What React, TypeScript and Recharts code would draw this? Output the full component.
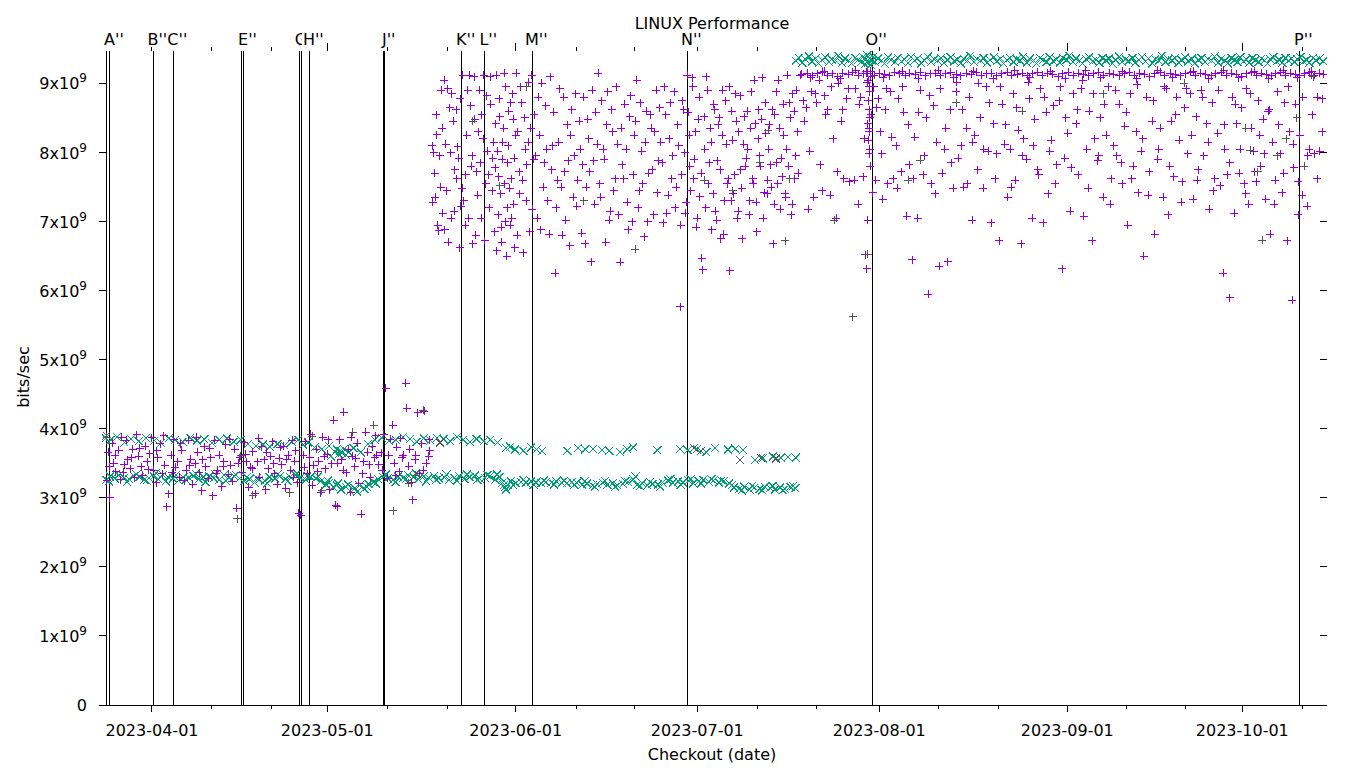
import React from 'react';
import { ScatterChart, Scatter, XAxis, YAxis, ReferenceLine } from 'recharts';

const W = 1360;
const H = 768;
const FONT = '"DejaVu Sans", Verdana, sans-serif';
const PURPLE = '#9400d3';
const GREEN = '#009e73';
const GRAY = '#555555';

// x unit: checkout position in "days" relative to the 2023-04-01 tick
const X_MIN = -8.8333;
const X_MAX = 195.8333;
const Y_MAX = 9.47e9;
const X_DOMAIN: [number, number] = [X_MIN, X_MAX];
const Y_DOMAIN: [number, number] = [0, Y_MAX];

const majorTickPos = [0, 29.22, 60.62, 90.88, 121.22, 152.55, 181.72];
const majorTickLabels = ['2023-04-01', '2023-05-01', '2023-06-01', '2023-07-01', '2023-08-01', '2023-09-01', '2023-10-01'];
const minorTickPos = [9.95, 19.95, 39.17, 49.22, 70.67, 80.38, 100.88, 110.67, 131.05, 141.05, 162.45, 172.33, 191.67];
const yTicks = [0, 1e9, 2e9, 3e9, 4e9, 5e9, 6e9, 7e9, 8e9, 9e9];

const markerPos = [-7.55, -7.0, 0.22, 3.55, 15.0, 15.25, 24.55, 24.88, 26.22, 38.55, 38.78, 51.62, 55.38, 63.38, 89.22, 120.05, 191.22];
const markerLabels = ['', "A''", "B''", "C''", '', "E''", '', "G''", "H''", '', "J''", "K''", "L''", "M''", "N''", "O''", "P''"];

// values: [x, y(Gbit/s), x, y, ...]
const greenLow = [
  -7.6, 3.26, -7.0, 3.31, -6.2, 3.28, -5.5, 3.33, -4.6, 3.29, -3.8, 3.27, -3.0, 3.32, -2.1, 3.30, -1.3, 3.26, -0.5, 3.29,
  0.3, 3.31, 1.0, 3.27, 1.8, 3.33, 2.7, 3.30, 3.5, 3.28, 4.4, 3.25, 5.2, 3.30, 6.1, 3.29, 6.9, 3.32, 7.8, 3.27,
  8.6, 3.30, 9.5, 3.31, 10.3, 3.28, 11.2, 3.26, 12.0, 3.33, 12.9, 3.29, 13.7, 3.31, 14.6, 3.28, 15.4, 3.24, 16.2, 3.27,
  17.1, 3.22, 17.9, 3.26, 18.8, 3.25, 19.6, 3.30, 20.5, 3.28, 21.3, 3.31, 22.2, 3.27, 23.0, 3.30, 23.9, 3.33, 24.7, 3.29,
  25.6, 3.26, 26.4, 3.30, 27.3, 3.28, 28.1, 3.24, 29.0, 3.19, 29.6, 3.22, 30.2, 3.15, 30.8, 3.18, 31.5, 3.12, 32.3, 3.16,
  33.0, 3.10, 33.8, 3.14, 34.6, 3.18, 35.4, 3.13, 36.1, 3.20, 36.9, 3.23, 37.7, 3.27, 38.5, 3.30, 39.3, 3.28, 40.2, 3.26,
  41.0, 3.31, 41.9, 3.29, 42.7, 3.33, 43.6, 3.30, 44.4, 3.27, 45.3, 3.31, 46.1, 3.29, 47.0, 3.32, 47.8, 3.28, 48.7, 3.30,
  49.5, 3.26, 50.4, 3.29, 51.2, 3.31, 52.1, 3.27, 52.9, 3.30, 53.8, 3.32, 54.6, 3.28, 55.5, 3.29, 56.3, 3.31, 57.2, 3.26,
  57.9, 3.30, 58.4, 3.22, 58.8, 3.15, 59.3, 3.19, 59.8, 3.24, 60.6, 3.21, 61.5, 3.23, 62.3, 3.22, 63.2, 3.24, 64.0, 3.22,
  64.9, 3.21, 65.7, 3.23, 66.6, 3.22, 67.4, 3.24, 68.3, 3.22, 69.1, 3.21, 70.0, 3.23, 70.8, 3.22, 71.7, 3.19, 72.5, 3.21,
  73.4, 3.18, 74.2, 3.20, 75.1, 3.22, 75.9, 3.19, 76.8, 3.21, 77.6, 3.18, 78.5, 3.20, 79.3, 3.23, 80.2, 3.27, 80.9, 3.19,
  81.7, 3.21, 82.6, 3.18, 83.4, 3.20, 84.3, 3.19, 85.1, 3.22, 86.0, 3.25, 86.8, 3.22, 87.7, 3.24, 88.5, 3.22, 89.4, 3.25,
  90.2, 3.21, 91.1, 3.24, 91.9, 3.26, 92.8, 3.23, 93.6, 3.25, 94.5, 3.22, 95.3, 3.24, 96.2, 3.21, 97.0, 3.15, 97.9, 3.13,
  98.7, 3.16, 99.6, 3.12, 100.4, 3.15, 101.3, 3.13, 102.1, 3.16, 103.0, 3.14, 103.8, 3.12, 104.7, 3.15, 105.5, 3.13, 106.4, 3.16,
  107.2, 3.14,
  -7.2, 3.24, -5.9, 3.35, -4.2, 3.23, -2.6, 3.34, -0.9, 3.25, 0.7, 3.36, 2.3, 3.24, 4.0, 3.33, 5.6, 3.26, 7.3, 3.35,
  8.9, 3.23, 10.6, 3.34, 12.3, 3.25, 14.0, 3.33, 15.8, 3.30, 17.5, 3.29, 19.2, 3.21, 20.9, 3.34, 22.6, 3.24, 24.2, 3.35,
  25.9, 3.32, 27.7, 3.31, 29.3, 3.25, 31.0, 3.21, 32.7, 3.19, 34.2, 3.09, 35.8, 3.16, 37.3, 3.21, 39.0, 3.34, 40.6, 3.23,
  42.3, 3.27, 44.0, 3.35, 45.7, 3.24, 47.4, 3.26, 49.1, 3.34, 50.8, 3.25, 52.5, 3.34, 54.2, 3.26, 55.9, 3.33, 57.5, 3.34,
  58.6, 3.18, 59.0, 3.12, 60.2, 3.18, 61.9, 3.26, 63.6, 3.19, 65.3, 3.25, 67.0, 3.19, 68.7, 3.25, 70.4, 3.19, 72.1, 3.24,
  73.8, 3.16, 75.5, 3.24, 77.2, 3.16, 78.9, 3.24, 80.6, 3.31, 81.3, 3.17, 83.0, 3.23, 84.7, 3.16, 86.4, 3.27, 88.1, 3.19,
  89.8, 3.27, 91.5, 3.21, 93.2, 3.27, 94.9, 3.25, 96.6, 3.18, 98.3, 3.11, 100.0, 3.17, 101.7, 3.11, 103.4, 3.17, 105.1, 3.11,
  106.8, 3.17,
  29.8, 3.60, 30.5, 3.66, 30.8, 3.70, 31.1, 3.63, 31.4, 3.68, 31.7, 3.65, 32.0, 3.71, 32.3, 3.62, 32.8, 3.66,
];

const greenHigh = [
  -7.7, 3.86, -6.9, 3.84, -5.8, 3.88, -4.6, 3.80, -3.5, 3.85, -2.2, 3.82, -1.0, 3.87, 0.4, 3.83, 1.5, 3.79, 2.8, 3.86,
  3.9, 3.84, 5.1, 3.81, 6.4, 3.87, 7.5, 3.83, 8.7, 3.85, 10.0, 3.79, 11.2, 3.84, 12.5, 3.86, 13.6, 3.81, 14.8, 3.84,
  16.0, 3.78, 17.3, 3.75, 18.5, 3.77, 19.6, 3.74, 20.9, 3.78, 22.1, 3.76, 23.3, 3.81, 24.4, 3.84, 25.2, 3.77, 26.0, 3.80,
  27.1, 3.73, 28.3, 3.70, 29.5, 3.75, 33.6, 3.72, 34.8, 3.66, 36.0, 3.78, 37.1, 3.84, 38.3, 3.87, 39.5, 3.82, 40.6, 3.84,
  41.8, 3.88, 43.0, 3.85, 44.1, 3.81, 45.3, 3.86, 46.4, 3.83, 47.5, 3.87, 48.6, 3.85, 49.7, 3.82, 50.8, 3.88, 51.9, 3.84,
  53.0, 3.81, 54.1, 3.85, 55.3, 3.82, 56.4, 3.84, 57.6, 3.80, 59.0, 3.72, 59.7, 3.74, 60.5, 3.70, 61.9, 3.68, 63.2, 3.73,
  64.1, 3.70, 65.0, 3.68, 69.2, 3.68, 71.0, 3.72, 72.2, 3.70, 73.5, 3.71, 75.0, 3.69, 76.2, 3.68, 78.0, 3.66, 79.2, 3.70,
  80.2, 3.73, 84.2, 3.69, 88.0, 3.71, 89.3, 3.69, 90.8, 3.70, 92.4, 3.66, 93.8, 3.72, 96.0, 3.70, 97.2, 3.71, 98.5, 3.69,
  100.5, 3.55, 101.8, 3.57, 103.5, 3.60, 104.8, 3.58, 106.0, 3.59, 107.3, 3.58,
];

const greenTop = [
  107.3, 9.33, 107.8, 9.37, 108.4, 9.30, 108.9, 9.35, 109.5, 9.39, 110.0, 9.32, 110.6, 9.36, 111.1, 9.29, 111.7, 9.34, 112.2, 9.38,
  112.8, 9.31, 113.3, 9.35, 113.9, 9.33, 114.4, 9.40, 115.0, 9.30, 115.5, 9.36, 116.1, 9.33, 116.6, 9.29, 117.2, 9.37, 117.7, 9.34,
  118.2, 9.31, 118.5, 9.38, 118.8, 9.28, 119.0, 9.35, 119.2, 9.41, 119.4, 9.30, 119.6, 9.36, 119.8, 9.27, 120.0, 9.33, 120.2, 9.39,
  120.5, 9.31, 121.0, 9.36, 121.6, 9.33, 122.1, 9.29, 122.7, 9.38, 123.2, 9.34, 123.8, 9.31, 124.3, 9.37, 124.9, 9.32, 125.4, 9.35,
  126.0, 9.30, 126.5, 9.38, 127.1, 9.33, 127.6, 9.36, 128.2, 9.29, 128.7, 9.34, 129.3, 9.39, 129.8, 9.31, 130.4, 9.35, 130.9, 9.33,
  131.5, 9.37, 132.0, 9.30, 132.6, 9.34, 133.1, 9.38, 133.7, 9.32, 134.2, 9.35, 134.8, 9.29, 135.3, 9.36, 135.9, 9.33, 136.4, 9.40,
  137.0, 9.31, 137.5, 9.35, 138.1, 9.33, 138.6, 9.37, 139.2, 9.30, 139.7, 9.34, 140.3, 9.38, 140.8, 9.32, 141.4, 9.36, 141.9, 9.29,
  142.5, 9.34, 143.0, 9.37, 143.6, 9.31, 144.1, 9.35, 144.7, 9.33, 145.2, 9.39, 145.8, 9.30, 146.3, 9.36, 146.9, 9.33, 147.4, 9.29,
  148.0, 9.37, 148.5, 9.34, 149.1, 9.31, 149.6, 9.38, 150.2, 9.32, 150.7, 9.35, 151.3, 9.30, 151.8, 9.37, 152.4, 9.34, 152.9, 9.40,
  153.5, 9.31, 154.0, 9.36, 154.6, 9.33, 155.1, 9.29, 155.7, 9.35, 156.2, 9.38, 156.8, 9.32, 157.3, 9.34, 157.9, 9.30, 158.4, 9.37,
  159.0, 9.33, 159.5, 9.36, 160.1, 9.29, 160.6, 9.34, 161.2, 9.39, 161.7, 9.31, 162.3, 9.35, 162.8, 9.33, 163.4, 9.37, 163.9, 9.30,
  164.5, 9.34, 165.0, 9.38, 165.6, 9.32, 166.1, 9.36, 166.7, 9.29, 167.2, 9.35, 167.8, 9.33, 168.3, 9.40, 168.9, 9.31, 169.4, 9.35,
  170.0, 9.33, 170.5, 9.37, 171.1, 9.30, 171.6, 9.34, 172.2, 9.38, 172.7, 9.32, 173.3, 9.36, 173.8, 9.29, 174.4, 9.34, 174.9, 9.37,
  175.5, 9.31, 176.0, 9.35, 176.6, 9.33, 177.1, 9.39, 177.7, 9.30, 178.2, 9.36, 178.8, 9.33, 179.3, 9.29, 179.9, 9.37, 180.4, 9.34,
  180.9, 9.31, 181.4, 9.38, 181.9, 9.32, 182.4, 9.35, 182.9, 9.30, 183.4, 9.37, 183.9, 9.34, 184.4, 9.31, 184.9, 9.36, 185.4, 9.33,
  185.9, 9.29, 186.4, 9.35, 186.9, 9.38, 187.4, 9.32, 187.9, 9.34, 188.4, 9.30, 188.9, 9.37, 189.4, 9.33, 189.9, 9.36, 190.4, 9.31,
  190.9, 9.35, 191.4, 9.38, 191.9, 9.32, 192.4, 9.34, 192.9, 9.30, 193.5, 9.37, 194.0, 9.33, 194.6, 9.36, 195.2, 9.32,
];

const purpleEarly = [
  -7.5, 3.25, -7.3, 3.66, -7.0, 3.0, -6.6, 3.79, -6.4, 3.50, -6.0, 3.38, -5.5, 3.69, -5.2, 3.26, -5.0, 3.88, -4.6, 3.48,
  -4.3, 3.83, -4.0, 3.55, -3.6, 3.42, -3.2, 3.70, -2.9, 3.29, -2.5, 3.91, -2.2, 3.60, -1.8, 3.45, -1.5, 3.33, -1.1, 3.75,
  -0.8, 3.52, -0.4, 3.64, 0.0, 3.87, 0.3, 3.40, 0.7, 3.22, 1.0, 3.58, 1.4, 3.78, 1.7, 3.35, 2.1, 3.47, 2.5, 2.87,
  2.8, 3.06, 3.2, 3.62, 3.6, 3.84, 3.9, 3.44, 4.3, 3.52, 4.6, 3.30, 5.0, 3.69, 5.4, 3.25, 5.7, 3.40, 6.1, 3.83,
  6.5, 3.56, 6.8, 3.20, 7.2, 3.49, 7.6, 3.66, 7.9, 3.36, 8.3, 3.10, 8.7, 3.74, 9.0, 3.45, 9.4, 3.28, 9.8, 3.58,
  10.1, 3.03, 10.5, 3.83, 10.9, 3.40, 11.2, 3.62, 11.6, 3.16, 12.0, 3.52, 12.3, 3.77, 12.7, 3.34, 13.1, 3.47, 13.4, 3.24,
  13.8, 3.70, 14.1, 2.85, 14.6, 3.58, 15.0, 3.37, 15.4, 3.80, 15.7, 3.52, 16.1, 3.15, 16.5, 3.44, 16.8, 3.67, 17.2, 3.06,
  17.6, 3.52, 17.9, 3.30, 18.3, 3.74, 18.7, 3.55, 19.0, 3.12, 19.4, 3.42, 19.8, 3.60, 20.1, 3.81, 20.5, 3.35, 20.9, 3.20,
  21.2, 3.57, 21.6, 3.48, 22.0, 3.75, 22.3, 3.14, 22.7, 3.62, 23.1, 3.40, 23.4, 3.83, 23.8, 3.53, 24.2, 3.22, 24.5, 2.78,
  24.8, 2.75, 25.2, 3.62, 25.6, 3.81, 25.9, 3.35, 26.3, 3.58, 26.7, 3.18, 27.0, 3.47, 27.4, 3.70, 27.8, 3.53, 28.1, 3.07,
  28.5, 3.88, 28.9, 3.42, 29.2, 3.63, 29.6, 3.12, 30.0, 3.49, 30.3, 4.12, 30.6, 2.89, 30.9, 2.87, 31.3, 3.84, 31.6, 3.55,
  32.0, 4.24, 32.4, 3.36, 32.7, 3.70, 33.1, 3.08, 33.4, 3.60, 33.8, 3.45, 34.2, 3.79, 34.5, 3.21, 34.9, 2.76, 35.3, 3.52,
  35.6, 3.95, 36.0, 3.66, 36.4, 3.30, 36.7, 3.74, 37.1, 3.58, 37.5, 3.62, 37.8, 3.48, 38.2, 3.65, 38.6, 3.92, 39.0, 4.59,
  39.3, 3.28, 39.7, 3.85, 40.1, 4.05, 40.4, 3.50, 40.8, 3.73, 41.2, 3.38, 41.5, 3.86, 41.9, 3.62, 42.3, 4.66, 42.5, 4.30,
  42.8, 3.46, 43.2, 3.22, 43.5, 2.97, 43.9, 3.55, 44.3, 4.23, 44.6, 3.35, 45.0, 3.78, 45.4, 4.25, 45.7, 3.50, 46.1, 3.60,
  46.3, 3.68,
  -7.1, 3.45, -6.1, 3.62, -4.8, 3.37, -3.4, 3.58, -2.0, 3.72, -0.6, 3.41, 0.8, 3.68, 2.0, 3.90, 3.4, 3.36, 4.8, 3.78,
  6.3, 3.47, 7.4, 3.88, 8.5, 3.55, 9.6, 3.72, 10.7, 3.35, 11.9, 3.46, 13.0, 3.85, 14.4, 3.50, 15.6, 3.63, 16.7, 3.42,
  17.8, 3.86, 19.1, 3.66, 20.3, 3.49, 21.4, 3.73, 22.5, 3.56, 23.6, 3.30, 24.0, 3.68, 25.4, 3.44, 26.5, 3.92, 27.6, 3.38,
  28.7, 3.60, 29.4, 3.84, 31.0, 3.50, 31.9, 3.40, 33.2, 3.88, 34.0, 3.57, 35.1, 3.35, 36.2, 3.48, 37.3, 3.90, 38.4, 3.40,
  39.5, 3.62, 40.6, 3.32, 41.7, 3.58, 43.0, 3.70, 44.0, 3.62, 45.2, 3.40, 46.2, 3.84,
];

const purpleMid = [
  46.7, 8.10, 46.8, 7.28, 47.0, 8.00, 47.2, 7.35, 47.5, 8.26, 47.8, 6.87, 48.0, 7.95, 48.2, 8.90, 48.5, 7.12, 48.8, 6.88,
  49.0, 8.12, 49.3, 8.92, 49.6, 8.65, 49.9, 7.05, 50.2, 8.45, 50.5, 7.75, 50.8, 7.62, 51.0, 8.08, 51.3, 6.62, 51.5, 7.22,
  51.8, 9.12, 52.0, 7.30, 52.3, 7.68, 52.6, 8.90, 52.9, 9.12, 53.2, 7.80, 53.5, 6.68, 53.8, 8.48, 54.1, 7.72, 54.4, 8.30,
  54.7, 7.85, 55.0, 8.55, 55.3, 9.12, 55.6, 7.55, 55.9, 8.02, 56.2, 7.20, 56.5, 8.70, 56.8, 7.92, 57.1, 6.85, 57.3, 8.42,
  57.5, 6.58, 57.7, 7.10, 57.9, 8.78, 58.1, 7.40, 58.3, 6.70, 58.5, 8.15, 58.7, 9.15, 58.9, 7.00, 59.1, 6.50, 59.3, 7.85,
  59.5, 8.60, 59.7, 6.95, 59.9, 7.62, 60.1, 8.85, 60.3, 7.25, 60.5, 6.62, 60.7, 9.15, 61.0, 8.30, 61.3, 7.40, 61.6, 8.72,
  61.9, 6.55, 62.2, 8.05, 62.5, 7.82, 62.8, 9.02, 63.1, 8.35, 63.4, 7.18, 63.7, 8.55, 64.0, 7.95, 64.4, 8.80, 64.8, 6.88,
  65.2, 7.50, 65.6, 8.68, 66.0, 7.30, 66.4, 9.10, 66.8, 8.10, 67.2, 6.25, 67.6, 7.60, 68.0, 8.92, 68.4, 6.80, 68.8, 7.72,
  69.2, 8.40, 69.6, 6.65, 70.0, 8.62, 70.4, 7.95, 70.8, 7.22, 71.2, 8.45, 71.6, 6.83, 72.0, 8.80, 72.4, 7.50, 72.8, 8.20,
  73.2, 6.42, 73.6, 7.88, 74.0, 8.58, 74.4, 9.15, 74.8, 7.35, 75.2, 8.05, 75.6, 6.70, 76.0, 8.88, 76.4, 7.15, 76.8, 8.30,
  77.2, 7.62, 77.6, 8.12, 78.0, 6.41, 78.4, 7.82, 78.8, 8.70, 79.2, 7.28, 79.6, 8.52, 80.0, 7.00, 80.4, 8.25, 80.8, 9.05,
  81.2, 7.45, 81.6, 8.02, 82.0, 6.78, 82.4, 8.60, 82.8, 7.70, 83.2, 8.35, 83.6, 7.10, 84.0, 8.90, 84.4, 7.88, 84.8, 8.15,
  85.2, 6.98, 85.6, 8.55, 86.0, 7.38, 86.4, 8.72, 86.8, 7.95, 87.2, 7.20, 87.6, 8.40, 88.0, 5.77, 88.3, 7.68, 88.6, 8.62,
  88.9, 7.12, 89.2, 9.12, 89.5, 8.25, 89.8, 7.45, 90.1, 8.95, 90.4, 7.90, 90.7, 6.92, 91.0, 8.48, 91.3, 7.36, 91.6, 6.47,
  91.8, 6.30, 92.1, 8.05, 92.4, 9.10, 92.7, 7.55, 93.0, 8.35, 93.3, 6.88, 93.6, 8.70, 93.9, 7.15, 94.2, 7.88, 94.5, 8.50,
  94.8, 6.75, 95.1, 8.90, 95.4, 7.30, 95.7, 8.12, 96.0, 7.62, 96.3, 6.29, 96.6, 8.60, 96.9, 7.40, 97.2, 8.85, 97.5, 7.05,
  97.8, 8.30, 98.1, 7.75, 98.4, 6.75, 98.7, 8.52, 99.0, 7.92, 99.3, 8.05, 99.6, 7.30, 99.9, 8.88, 100.2, 7.55, 100.5, 8.42,
  100.8, 6.85, 101.1, 8.62, 101.4, 7.80, 101.7, 9.08, 102.0, 7.42, 102.3, 8.28, 102.6, 7.60, 102.9, 8.40, 103.2, 7.50, 103.5, 6.68,
  103.8, 8.55, 104.1, 7.85, 104.4, 9.05, 104.7, 7.18, 105.0, 7.65, 105.3, 8.25, 105.6, 7.35, 105.9, 9.12, 106.2, 8.72, 106.5, 7.10,
  106.8, 8.85, 107.1, 7.62, 107.4, 8.90, 107.7, 7.70, 108.0, 9.12,
  47.1, 7.70, 47.4, 8.55, 47.6, 6.95, 48.1, 7.50, 48.4, 8.35, 48.7, 9.05, 49.1, 7.45, 49.4, 6.70, 49.8, 8.00, 50.0, 8.85,
  50.4, 7.15, 50.7, 8.62, 51.1, 7.92, 51.4, 8.78, 51.7, 7.48, 52.2, 6.95, 52.5, 8.25, 52.8, 7.05, 53.1, 8.68, 53.4, 7.95,
  53.7, 9.10, 54.0, 6.80, 54.3, 7.38, 54.6, 8.90, 54.9, 7.05, 55.2, 8.20, 55.5, 6.72, 55.8, 8.82, 56.1, 7.68, 56.4, 9.10,
  56.7, 7.45, 57.0, 8.15, 57.2, 7.78, 57.4, 9.12, 57.6, 8.02, 57.8, 7.65, 58.0, 8.52, 58.2, 6.92, 58.4, 7.90, 58.6, 8.35,
  58.8, 7.55, 59.0, 8.95, 59.2, 7.20, 59.4, 8.10, 59.6, 7.48, 59.8, 8.72, 60.0, 7.05, 60.2, 8.48, 60.4, 7.92, 60.6, 8.25,
  60.9, 6.80, 61.2, 7.72, 61.5, 8.95, 61.8, 7.60, 62.1, 8.50, 62.4, 7.30, 62.7, 8.15, 63.0, 6.85, 63.3, 9.12, 63.6, 7.90,
  64.2, 7.05, 64.6, 8.25, 65.0, 9.00, 65.4, 7.85, 65.8, 8.05, 66.2, 6.82, 66.6, 7.75, 67.0, 8.58, 67.4, 7.20, 67.8, 8.15,
  68.2, 7.50, 68.6, 8.80, 69.0, 7.02, 69.4, 7.88, 69.8, 8.25, 70.2, 7.35, 70.6, 8.85, 71.0, 7.60, 71.4, 8.05, 71.8, 7.82,
  72.2, 6.68, 72.6, 8.48, 73.0, 7.72, 73.4, 8.90, 73.8, 7.25, 74.2, 8.12, 74.6, 7.55, 75.0, 8.75, 75.4, 7.90, 75.8, 8.40,
  76.2, 7.02, 76.6, 8.62, 77.0, 7.45, 77.4, 8.95, 77.8, 7.10, 78.2, 8.35, 78.6, 7.62, 79.0, 8.05, 79.4, 6.88, 79.8, 8.82,
  80.2, 7.68, 80.6, 8.45, 81.0, 7.20, 81.4, 8.72, 81.8, 7.55, 82.2, 8.15, 82.6, 7.00, 83.0, 8.55, 83.4, 7.75, 83.8, 8.30,
  84.2, 7.42, 84.6, 8.65, 85.0, 7.85, 85.4, 8.95, 85.8, 7.12, 86.2, 8.20, 86.6, 7.62, 87.0, 8.88, 87.4, 7.50, 87.8, 8.10,
  88.1, 6.95, 88.4, 8.75, 88.8, 8.00, 89.0, 7.28, 89.4, 8.58, 89.6, 7.80, 90.0, 9.08, 90.3, 7.62, 90.6, 8.30, 90.9, 7.05,
  91.2, 8.80, 91.5, 7.70, 92.0, 8.52, 92.3, 7.20, 92.6, 8.90, 92.9, 7.85, 93.2, 8.15, 93.5, 7.40, 93.8, 8.62, 94.1, 7.02,
  94.4, 8.40, 94.7, 7.75, 95.0, 8.25, 95.3, 6.82, 95.6, 8.75, 95.9, 7.55, 96.2, 8.95, 96.5, 7.30, 96.8, 8.18, 97.1, 7.68,
  97.4, 8.45, 97.7, 7.15, 98.0, 8.82, 98.3, 7.48, 98.6, 8.12, 98.9, 7.80, 99.2, 8.60, 99.5, 7.10, 99.8, 8.35, 100.1, 7.62,
  100.4, 9.05, 100.7, 7.28, 101.0, 8.20, 101.3, 7.95, 101.6, 8.48, 101.9, 7.05, 102.2, 8.72, 102.5, 7.40, 102.8, 8.05, 103.1, 7.82,
  103.4, 8.62, 103.7, 7.25, 104.0, 8.88, 104.3, 7.55, 104.6, 8.35, 104.9, 7.92, 105.2, 8.70, 105.5, 7.40, 105.8, 8.05, 106.1, 7.80,
  106.4, 8.50, 106.7, 7.25, 107.0, 8.60, 107.3, 7.95, 107.6, 8.30,
];

const purpleLate = [
  108.5, 8.75, 109.0, 8.65, 109.4, 7.18, 109.9, 8.88, 110.3, 7.35, 110.8, 8.72, 111.2, 9.05, 111.7, 7.45, 112.1, 8.82, 112.6, 8.62,
  113.0, 7.38, 113.5, 8.20, 114.0, 7.05, 114.4, 9.00, 114.9, 8.45, 115.3, 7.62, 115.8, 8.78, 116.2, 7.58, 117.2, 8.92, 117.7, 7.25,
  118.1, 8.80, 118.5, 7.65, 118.9, 6.52, 119.1, 6.32, 119.3, 7.02, 119.5, 8.35, 119.7, 7.80, 119.9, 8.55, 120.1, 7.42, 120.3, 8.95,
  120.6, 7.60, 121.0, 8.78, 121.4, 8.30, 121.8, 7.32, 122.2, 8.62, 122.6, 7.55, 123.1, 8.88, 123.5, 7.62, 124.0, 8.10, 124.4, 8.78,
  124.9, 7.72, 125.3, 8.58, 125.8, 7.08, 126.2, 7.82, 126.7, 6.45, 127.1, 8.22, 127.6, 7.05, 128.0, 8.90, 128.5, 7.68, 129.0, 8.50,
  129.4, 5.95, 129.9, 7.55, 130.3, 8.68, 130.8, 8.15, 131.2, 6.35, 131.7, 7.70, 132.1, 8.05, 132.6, 6.42, 133.0, 8.62, 133.5, 7.48,
  134.0, 8.88, 134.4, 7.92, 134.9, 8.10, 135.3, 7.50, 135.8, 8.35, 136.2, 8.80, 136.7, 7.02, 137.1, 8.25, 137.6, 7.75, 138.0, 8.50,
  138.5, 7.48, 139.0, 8.95, 139.4, 8.02, 139.9, 6.98, 140.3, 8.42, 140.8, 7.98, 141.2, 6.72, 141.7, 8.70, 142.1, 8.12, 142.6, 7.35,
  143.0, 8.05, 143.5, 8.85, 143.9, 7.60, 144.4, 8.32, 144.9, 6.68, 145.3, 8.20, 145.8, 7.90, 146.2, 8.78, 146.7, 7.05, 147.1, 8.48,
  147.6, 7.75, 148.0, 8.92, 148.5, 6.98, 149.0, 8.58, 149.4, 7.40, 149.9, 8.18, 150.3, 8.68, 150.8, 7.82, 151.2, 8.75, 151.7, 6.32,
  152.1, 7.92, 152.6, 8.28, 153.0, 7.15, 153.5, 8.85, 154.0, 8.42, 154.4, 7.68, 154.9, 8.92, 155.3, 7.08, 155.8, 8.05, 156.2, 8.60,
  156.7, 6.72, 157.1, 8.20, 157.6, 7.88, 158.0, 8.50, 158.5, 7.35, 159.0, 8.25, 159.4, 8.95, 159.9, 7.62, 160.3, 8.10, 160.8, 7.95,
  161.2, 8.70, 161.7, 7.55, 162.1, 8.38, 162.6, 6.95, 163.0, 8.85, 163.5, 7.80, 164.0, 8.30, 164.4, 7.42, 164.9, 8.02, 165.3, 6.50,
  165.8, 8.80, 166.2, 7.72, 166.7, 8.45, 167.1, 6.82, 167.6, 7.90, 168.0, 8.35, 168.5, 7.35, 169.0, 8.92, 169.4, 7.10, 169.9, 8.45,
  170.3, 7.65, 170.8, 8.80, 171.2, 8.18, 171.7, 7.58, 172.1, 8.65, 172.6, 7.98, 173.0, 8.85, 173.5, 7.32, 174.0, 8.52, 174.4, 7.75,
  174.9, 8.90, 175.3, 7.95, 175.8, 8.42, 176.2, 7.18, 176.7, 8.72, 177.1, 7.62, 177.6, 8.28, 178.0, 7.52, 178.5, 6.25, 178.8, 8.05,
  179.2, 7.68, 179.6, 5.90, 180.0, 8.80, 180.4, 7.12, 180.8, 8.42, 181.2, 7.70, 181.6, 8.65, 182.0, 7.55, 182.4, 8.92, 182.8, 7.25,
  183.2, 8.35, 183.6, 8.02, 184.0, 7.58, 184.4, 8.75, 184.8, 7.80, 185.2, 8.48, 185.6, 7.32, 186.0, 8.60, 186.4, 6.82, 186.8, 8.15,
  187.2, 7.60, 187.6, 8.88, 188.0, 7.98, 188.4, 7.42, 188.8, 8.72, 189.2, 6.72, 189.6, 8.30, 190.0, 5.86, 190.3, 7.78, 190.6, 8.70,
  191.0, 7.10, 191.3, 8.25, 191.7, 7.38, 192.1, 9.15, 192.5, 7.22, 192.9, 8.05, 193.3, 9.12, 193.7, 7.98, 194.2, 8.80, 194.6, 8.02,
  195.0, 8.78,
  119.3, 9.15, 119.4, 9.05, 119.5, 8.95, 119.6, 8.88, 119.4, 8.75, 119.5, 8.62, 119.6, 8.50, 119.3, 8.42, 119.5, 8.30, 119.4, 8.18,
  119.6, 8.05, 119.5, 7.98, 119.7, 9.10, 119.8, 9.18, 119.2, 9.02,
  108.7, 8.45, 109.6, 8.02, 110.5, 8.85, 111.4, 7.82, 112.3, 8.55, 113.2, 8.95, 114.2, 7.72, 115.1, 8.62, 116.0, 8.92, 117.0, 7.60,
  117.9, 8.70, 118.7, 8.20, 120.8, 8.65, 121.6, 7.98, 122.4, 8.92, 123.3, 8.22, 124.2, 7.48, 125.1, 8.95, 126.0, 8.40, 126.9, 7.62,
  127.8, 8.58, 128.7, 7.95, 129.6, 8.82, 130.5, 7.40, 131.4, 8.92, 132.3, 8.35, 133.2, 7.85, 134.1, 9.02, 135.0, 8.62, 135.9, 7.55,
  136.8, 8.15, 137.7, 9.00, 138.6, 8.05, 139.5, 8.72, 140.5, 7.62, 141.4, 8.95, 142.3, 8.40, 143.2, 7.50, 144.1, 8.65, 145.0, 7.95,
  146.0, 9.02, 146.9, 8.10, 147.8, 7.68, 148.7, 8.80, 149.6, 8.02, 150.5, 7.55, 151.4, 8.95, 152.3, 8.50, 153.2, 7.78, 154.2, 8.62,
  155.1, 9.05, 156.0, 7.48, 156.9, 8.85, 157.8, 7.95, 158.7, 8.70, 159.7, 7.25, 160.6, 8.90, 161.5, 7.85, 162.4, 8.58, 163.3, 7.62,
  164.2, 8.98, 165.1, 8.20, 166.0, 7.38, 166.9, 8.75, 167.8, 8.05, 168.7, 8.95, 169.6, 7.80, 170.6, 8.55, 171.5, 7.28, 172.4, 8.92,
  173.3, 8.25, 174.2, 7.60, 175.1, 8.80, 176.0, 8.15, 176.9, 7.45, 177.8, 8.90, 178.7, 8.40, 179.6, 7.85, 180.5, 8.70, 181.4, 8.05,
  182.3, 7.40, 183.0, 8.85, 183.8, 7.72, 184.6, 8.25, 185.4, 7.98, 186.2, 8.62, 187.0, 7.25, 187.8, 8.40, 188.6, 7.70, 189.4, 8.95,
  190.2, 8.12, 191.0, 7.58, 191.8, 8.80, 192.6, 7.95, 193.4, 8.55, 194.2, 7.62, 195.0, 8.30,
];

const purpleLine = [
  108.3, 9.13, 109.2, 9.15, 110.0, 9.11, 110.9, 9.14, 111.7, 9.16, 112.6, 9.12, 113.4, 9.14, 114.3, 9.10, 115.1, 9.15, 116.0, 9.13,
  116.8, 9.16, 117.7, 9.12, 118.5, 9.14, 119.0, 9.17, 120.4, 9.12, 121.2, 9.15, 122.1, 9.13, 122.9, 9.11, 123.8, 9.16, 124.6, 9.14,
  125.5, 9.12, 126.3, 9.15, 127.2, 9.13, 128.0, 9.16, 128.9, 9.11, 129.7, 9.14, 130.6, 9.15, 131.4, 9.12, 132.3, 9.14, 133.1, 9.16,
  134.0, 9.13, 134.8, 9.11, 135.7, 9.15, 136.5, 9.13, 137.4, 9.16, 138.2, 9.12, 139.1, 9.14, 139.9, 9.15, 140.8, 9.11, 141.6, 9.14,
  142.5, 9.16, 143.3, 9.12, 144.2, 9.13, 145.0, 9.15, 145.9, 9.11, 146.7, 9.14, 147.6, 9.16, 148.4, 9.12, 149.3, 9.15, 150.1, 9.13,
  151.0, 9.10, 151.8, 9.14, 152.7, 9.16, 153.5, 9.12, 154.4, 9.15, 155.2, 9.13, 156.1, 9.11, 156.9, 9.14, 157.8, 9.16, 158.6, 9.12,
  159.5, 9.15, 160.3, 9.13, 161.2, 9.11, 162.0, 9.14, 162.9, 9.16, 163.7, 9.12, 164.6, 9.15, 165.4, 9.13, 166.3, 9.10, 167.1, 9.14,
  168.0, 9.16, 168.8, 9.12, 169.7, 9.15, 170.5, 9.13, 171.4, 9.11, 172.2, 9.14, 173.1, 9.16, 173.9, 9.12, 174.8, 9.15, 175.6, 9.13,
  176.5, 9.11, 177.3, 9.14, 178.2, 9.16, 179.0, 9.12, 179.9, 9.15, 180.7, 9.13, 181.6, 9.10, 182.4, 9.14, 183.3, 9.16, 184.1, 9.12,
  184.9, 9.15, 185.7, 9.13, 186.5, 9.11, 187.3, 9.14, 188.1, 9.16, 188.9, 9.12, 189.7, 9.15, 190.5, 9.13, 191.3, 9.11, 192.1, 9.14,
  192.9, 9.16, 193.7, 9.12, 194.5, 9.15, 195.3, 9.13,
  109.8, 9.08, 112.0, 9.18, 114.7, 9.07, 117.3, 9.19, 121.9, 9.08, 125.0, 9.18, 127.7, 9.07, 131.0, 9.19, 133.6, 9.08, 136.9, 9.18,
  140.2, 9.07, 143.8, 9.19, 146.3, 9.08, 149.8, 9.18, 152.2, 9.07, 155.6, 9.19, 158.1, 9.08, 161.7, 9.18, 164.1, 9.07, 167.6, 9.19,
  170.1, 9.08, 173.5, 9.18, 176.1, 9.07, 178.6, 9.19, 181.1, 9.08, 183.7, 9.18, 186.1, 9.07, 188.5, 9.19, 190.9, 9.08, 193.3, 9.18,
];

const grayPlus = [
  -7.5, 3.88, 14.2, 2.70, 14.8, 3.61, 16.8, 3.04, 23.0, 3.07, 26.7, 3.89, 28.3, 3.10, 33.5, 3.95, 37.0, 4.05, 40.2, 2.81,
  42.8, 3.21, 45.2, 4.27, 44.0, 3.33, 53.5, 8.45, 58.0, 7.52, 62.5, 8.95, 72.0, 7.30, 80.5, 6.60, 92.0, 7.60, 96.8, 7.45,
  101.3, 7.86, 102.7, 8.32, 105.5, 6.72, 106.3, 7.62, 113.7, 7.02, 116.8, 5.62, 119.3, 6.53, 126.0, 7.60, 128.0, 7.89, 134.0, 8.72,
  145.0, 8.60, 158.5, 8.85, 172.0, 9.00, 182.3, 8.35, 183.0, 8.03, 184.3, 7.72, 185.0, 6.73, 187.5, 7.95, 189.0, 8.20, 190.8, 8.50,
  192.0, 7.80, 193.5, 9.10,
];

const grayCross = [-7.6, 3.90, 48.0, 3.80, 90.3, 3.72, 91.5, 3.68, 98.0, 3.55, 101.5, 3.58, 104.0, 3.57];

const toPoints = (flat: number[]) => {
  const out: { x: number; y: number }[] = [];
  for (let i = 0; i + 1 < flat.length; i += 2) out.push({ x: flat[i], y: flat[i + 1] * 1e9 });
  return out;
};

const plusShape = (color: string) => (p: any) => {
  const { cx, cy } = p;
  if (cx == null || cy == null) return <g />;
  return <path d={`M${cx - 4},${cy}h8M${cx},${cy - 4}v8`} stroke={color} strokeWidth={1} fill="none" />;
};
const crossShape = (color: string) => (p: any) => {
  const { cx, cy } = p;
  if (cx == null || cy == null) return <g />;
  return <path d={`M${cx - 4},${cy - 4}l8,8M${cx - 4},${cy + 4}l8,-8`} stroke={color} strokeWidth={1} fill="none" />;
};

const allXTicks = [...majorTickPos, ...minorTickPos].sort((a, b) => a - b);

// tick lengths expressed in axis units (6 px per day, ~69 px per 1e9)
const TOP_MAJOR_LEN = 0.116e9;
const TOP_MINOR_LEN = 0.055e9;
const RIGHT_TICK_LEN = 1.17;

const BottomTick = (props: any) => {
  const { x, y, payload } = props;
  const i = majorTickPos.indexOf(payload.value);
  if (i < 0) return <line x1={x} x2={x} y1={y} y2={y + 4} stroke="#000" />;
  return (
    <g>
      <line x1={x} x2={x} y1={y} y2={y + 7} stroke="#000" />
      <text x={x} y={y + 31} textAnchor="middle" fontFamily={FONT} fontSize={16} fill="#000">
        {majorTickLabels[i]}
      </text>
    </g>
  );
};

const LeftTick = (props: any) => {
  const { x, y, payload } = props;
  const v = payload.value as number;
  const n = Math.round(v / 1e9);
  return (
    <g>
      <line x1={x + 12} x2={x + 19} y1={y} y2={y} stroke="#000" />
      <text x={x} y={y + 6} textAnchor="end" fontFamily={FONT} fontSize={16} fill="#000">
        {n === 0 ? '0' : `${n}x10`}
        {n === 0 ? null : (
          <tspan dy={-7} fontSize={12}>
            9
          </tspan>
        )}
      </text>
    </g>
  );
};

const markerLabel = (text: string) => (p: any) => {
  const vb = p.viewBox || {};
  if (!text || vb.x == null) return <g />;
  const cx = vb.x + 4;
  const top = vb.y;
  return (
    <g>
      <rect x={cx - 11} y={top - 18} width={22} height={14} fill="#fff" />
      <text x={cx} y={top - 6} textAnchor="middle" fontFamily={FONT} fontSize={16} fill="#000">
        {text}
      </text>
    </g>
  );
};

export default function App() {
  return (
    <div style={{ position: 'absolute', left: 0, top: 0, width: W, height: H, background: '#fff' }} className="gp">
      <style>{`.gp svg line, .gp svg path, .gp svg rect { shape-rendering: crispEdges; }`}</style>
      <ScatterChart width={W} height={H} margin={{ top: 51, right: 33, bottom: 33, left: 39 }}>
        <XAxis
          xAxisId="main"
          type="number"
          dataKey="x"
          domain={X_DOMAIN}
          allowDataOverflow
          ticks={allXTicks}
          interval={0}
          height={30}
          tickSize={0}
          tickMargin={0}
          tickLine={false}
          axisLine={{ stroke: '#000' }}
          tick={BottomTick}
        />
        <YAxis
          yAxisId="left"
          type="number"
          dataKey="y"
          domain={Y_DOMAIN}
          allowDataOverflow
          ticks={yTicks}
          interval={0}
          width={60}
          tickSize={0}
          tickMargin={12}
          tickLine={false}
          axisLine={false}
          tick={LeftTick}
        />
        <Scatter xAxisId="main" yAxisId="left" data={toPoints(greenLow)} shape={crossShape(GREEN)} isAnimationActive={false} />
        <Scatter xAxisId="main" yAxisId="left" data={toPoints(greenHigh)} shape={crossShape(GREEN)} isAnimationActive={false} />
        <Scatter xAxisId="main" yAxisId="left" data={toPoints(greenTop)} shape={crossShape(GREEN)} isAnimationActive={false} />
        <Scatter xAxisId="main" yAxisId="left" data={toPoints(purpleEarly)} shape={plusShape(PURPLE)} isAnimationActive={false} />
        <Scatter xAxisId="main" yAxisId="left" data={toPoints(purpleMid)} shape={plusShape(PURPLE)} isAnimationActive={false} />
        <Scatter xAxisId="main" yAxisId="left" data={toPoints(purpleLate)} shape={plusShape(PURPLE)} isAnimationActive={false} />
        <Scatter xAxisId="main" yAxisId="left" data={toPoints(purpleLine)} shape={plusShape(PURPLE)} isAnimationActive={false} />
        <Scatter xAxisId="main" yAxisId="left" data={toPoints(grayPlus)} shape={plusShape(GRAY)} isAnimationActive={false} />
        <Scatter xAxisId="main" yAxisId="left" data={toPoints(grayCross)} shape={crossShape(GRAY)} isAnimationActive={false} />
        {allXTicks.map((pos) => (
          <ReferenceLine
            key={`t${pos}`}
            xAxisId="main"
            yAxisId="left"
            stroke="#000"
            ifOverflow="visible"
            segment={[
              { x: pos, y: Y_MAX },
              { x: pos, y: Y_MAX + (majorTickPos.indexOf(pos) >= 0 ? TOP_MAJOR_LEN : TOP_MINOR_LEN) },
            ]}
          />
        ))}
        {yTicks.map((v) => (
          <ReferenceLine
            key={`r${v}`}
            xAxisId="main"
            yAxisId="left"
            stroke="#000"
            ifOverflow="visible"
            segment={[
              { x: X_MAX - RIGHT_TICK_LEN, y: v },
              { x: X_MAX, y: v },
            ]}
          />
        ))}
        {markerPos.map((pos, i) => (
          <ReferenceLine
            key={i}
            xAxisId="main"
            yAxisId="left"
            x={pos}
            stroke="#000"
            strokeWidth={1}
            ifOverflow="visible"
            label={markerLabel(markerLabels[i])}
          />
        ))}
      </ScatterChart>
      <svg width={W} height={H} style={{ position: 'absolute', left: 0, top: 0, pointerEvents: 'none' }}>
        <text x={712} y={29} textAnchor="middle" fontFamily={FONT} fontSize={16} fill="#000">
          LINUX Performance
        </text>
        <text x={712} y={760} textAnchor="middle" fontFamily={FONT} fontSize={16} fill="#000">
          Checkout (date)
        </text>
        <text x={29} y={377} textAnchor="middle" fontFamily={FONT} fontSize={16} fill="#000" transform="rotate(-90 29 377)">
          bits/sec
        </text>
      </svg>
    </div>
  );
}
